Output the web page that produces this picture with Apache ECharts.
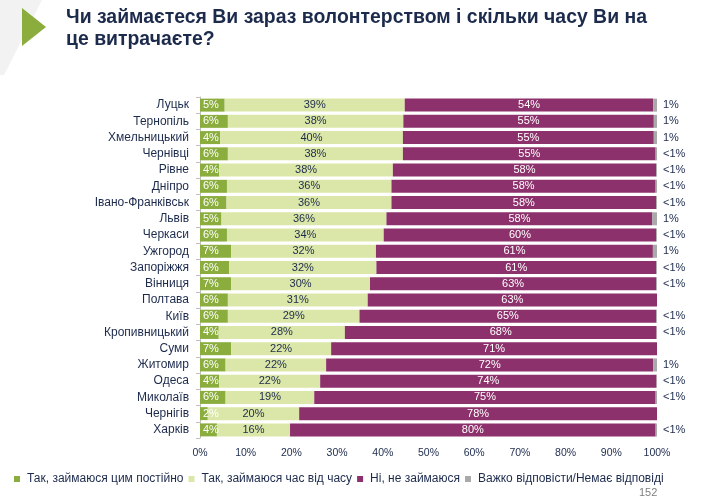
<!DOCTYPE html>
<html><head><meta charset="utf-8">
<script src="https://cdn.jsdelivr.net/npm/echarts@6/dist/echarts.min.js"></script>
<style>html,body{margin:0;padding:0;background:#fff}#c{width:707px;height:498px}</style>
</head><body><div id="c"></div>
<script>
const cities = ['Луцьк','Тернопіль','Хмельницький','Чернівці','Рівне','Дніпро','Івано-Франківськ','Львів','Черкаси','Ужгород','Запоріжжя','Вінниця','Полтава','Київ','Кропивницький','Суми','Житомир','Одеса','Миколаїв','Чернігів','Харків'];
const constantly = [5.4,6.1,4.4,6.1,4.2,5.9,5.8,4.7,5.9,6.8,6.4,6.8,6.1,6.1,4.1,6.8,5.6,4.2,5.6,1.7,3.7];
const sometimes = [39.4,38.4,40.0,38.3,38.0,36.0,36.1,36.1,34.3,31.7,32.2,30.4,30.6,28.8,27.6,21.9,22.0,22.1,19.4,20.0,16.0];
const notAtAll = [54.4,54.8,54.9,55.3,57.6,57.8,57.9,58.2,59.6,60.6,61.2,62.6,63.3,64.9,68.2,71.3,71.6,73.6,74.7,78.3,80.0];
const hardToSay = [0.8,0.7,0.7,0.3,0.2,0.3,0.2,1.0,0.2,0.9,0.2,0.2,0,0.2,0.1,0,0.8,0.1,0.3,0,0.3];
const seriesNames = ['Так, займаюся цим постійно','Так, займаюся час від часу','Ні, не займаюся','Важко відповісти/Немає відповіді'];
const titleLines = ['Чи займаєтеся Ви зараз волонтерством і скільки часу Ви на','це витрачаєте?'];
const pageNumber = '152';

const navy = '#1c2a4c';
const font = '"Liberation Sans", Arial, sans-serif';
function fmt(v){ if(v===0) return ''; if(v<0.5) return '<1%'; return Math.round(v)+'%'; }

// horizontal compression so the bold title matches the condensed typeface width
const titleFont = 'bold 20px "Liberation Sans", Arial, sans-serif';
const cv = document.createElement('canvas').getContext('2d');
cv.font = titleFont;
const titleScale = 581 / cv.measureText(titleLines[0]).width;

const chart = echarts.init(document.getElementById('c'));
const colors = ['#8aad3d','#dbe7a8','#8c316b','#a9a9a9'];
const datas = [constantly, sometimes, notAtAll, hardToSay];
const labelColors = ['#ffffff', navy, '#ffffff', navy];
const series = datas.map((d,i)=>({
  name: seriesNames[i], type:'bar', stack:'s', data:d, barCategoryGap:'20%',
  itemStyle:{color:colors[i]},
  label:{show:true, position: i===3 ? 'right' : (i===0 ? 'insideLeft' : 'inside'), distance: i===3?6:3,
    color:labelColors[i], fontFamily:font, fontSize:11,
    formatter: p=>fmt(p.value)},
  emphasis:{disabled:true}
}));
chart.setOption({
  animation:false,
  textStyle:{fontFamily:font},
  graphic:[
    {type:'polygon', shape:{points:[[0,0],[42,0],[4,75],[0,75]]}, style:{fill:'#f2f2f2'}, z:0},
    {type:'polygon', shape:{points:[[22,8],[46,27],[22,46]]}, style:{fill:'#8aad3d'}},
    {type:'text', x:66, y:6, scaleX:titleScale, originX:0,
      style:{text:titleLines.join('\n'), font:titleFont, fill:navy, lineHeight:22, verticalAlign:'top'}},
    {type:'text', x:639, y:487, style:{text:pageNumber, fill:'#7f7f7f', fontSize:11, fontFamily:font}}
  ],
  legend:{left:14, top:473, padding:0, itemWidth:6, itemHeight:6, itemGap:5, icon:'rect',
    textStyle:{fontFamily:font, fontSize:12, color:navy, padding:[0,0,0,2]}, data:seriesNames},
  grid:{left:200, right:50, top:97, bottom:60, containLabel:false},
  xAxis:{type:'value', min:0, max:100, interval:10, axisLine:{show:false}, axisTick:{show:false}, splitLine:{show:false},
    axisLabel:{color:navy, fontFamily:font, fontSize:10.5, margin:10, formatter:v=>v+'%'}},
  yAxis:{type:'category', data:cities, inverse:true,
    axisLine:{show:true, lineStyle:{color:'#bfbfbf'}}, axisTick:{show:true, length:4, lineStyle:{color:'#bfbfbf'}},
    axisLabel:{color:navy, fontFamily:font, fontSize:12, margin:11, interval:0}},
  series
});
</script></body></html>
